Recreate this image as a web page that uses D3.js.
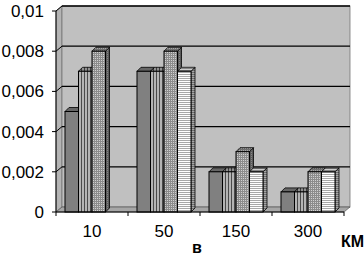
<!DOCTYPE html>
<html>
<head>
<meta charset="utf-8">
<script src="https://cdn.jsdelivr.net/npm/d3@7"></script>
<style>
  body { margin: 0; background: #fff; }
  text { font-family: "Liberation Sans", Arial, sans-serif; fill: #000; }
</style>
</head>
<body>
<script>
const width = 364, height = 255;

// data
const categories = ["10", "50", "150", "300"];
const series1 = [0.005, 0.007, 0.002, 0.001];
const series2 = [0.007, 0.007, 0.002, 0.001];
const series3 = [0.008, 0.008, 0.003, 0.002];
const series4 = [0, 0.007, 0.002, 0.002];
const yTicks = [0, 0.002, 0.004, 0.006, 0.008, 0.01];
const yTickLabels = ["0", "0,002", "0,004", "0,006", "0,008", "0,01"];

const allSeries = [series1, series2, series3, series4];
const seriesKeys = ["s1", "s2", "s3", "s4"];

// front plane + depth of the 3d box
const x0 = 56, x1 = 344;
const dx = 6, dy = -5;     // wall depth
const bdx = 4, bdy = -4;   // bar depth

const svg = d3.select("body").append("svg")
  .attr("width", width)
  .attr("height", height);

const y = d3.scaleLinear().domain([0, 0.01]).range([212, 11]);
const x = d3.scaleBand().domain(categories).range([x0, x1])
  .paddingInner(0.25).paddingOuter(0.125);
const xs = d3.scaleBand().domain(seriesKeys).range([0, x.bandwidth()]);

// fill patterns
const defs = svg.append("defs");
const p2 = defs.append("pattern").attr("id", "p2")
  .attr("patternUnits", "userSpaceOnUse").attr("width", 3).attr("height", 3);
p2.append("rect").attr("width", 3).attr("height", 3).attr("fill", "#b4b4b4");
p2.append("rect").attr("width", 1).attr("height", 3).attr("fill", "#4a4a4a");

const p3 = defs.append("pattern").attr("id", "p3")
  .attr("patternUnits", "userSpaceOnUse").attr("width", 2).attr("height", 2);
p3.append("rect").attr("width", 2).attr("height", 2).attr("fill", "#8c8c8c");
p3.append("rect").attr("x", 1).attr("width", 1).attr("height", 1).attr("fill", "#d0d0d0");

const p4 = defs.append("pattern").attr("id", "p4")
  .attr("patternUnits", "userSpaceOnUse").attr("width", 3).attr("height", 2);
p4.append("rect").attr("width", 3).attr("height", 2).attr("fill", "#fff");
p4.append("rect").attr("width", 3).attr("height", 1).attr("fill", "#a8a8a8");

const fills = ["#808080", "url(#p2)", "url(#p3)", "url(#p4)"];

const y0 = y(0), yTop = y(0.01);

// left wall
svg.append("polygon")
  .attr("points", [[x0, y0], [x0, yTop], [x0 + dx, yTop + dy], [x0 + dx, y0 + dy]].join(" "))
  .attr("fill", "#b4b4b4").attr("stroke", "#555").attr("stroke-width", 0.6);

// back wall
svg.append("rect")
  .attr("x", x0 + dx).attr("y", yTop + dy)
  .attr("width", x1 - x0).attr("height", y0 - yTop)
  .attr("fill", "#c0c0c0").attr("stroke", "#777").attr("stroke-width", 0.8);

// floor
svg.append("polygon")
  .attr("points", [[x0, y0], [x1, y0], [x1 + dx, y0 + dy], [x0 + dx, y0 + dy]].join(" "))
  .attr("fill", "#a6a6a6").attr("stroke", "#444").attr("stroke-width", 0.6);

// gridlines on left + back wall
const grid = svg.append("g");
yTicks.filter(d => d > 0).forEach(v => {
  grid.append("line")
    .attr("x1", x0).attr("y1", y(v)).attr("x2", x0 + dx).attr("y2", y(v) + dy)
    .attr("stroke", "#000").attr("stroke-width", 1);
  grid.append("line")
    .attr("x1", x0 + dx).attr("y1", y(v) + dy).attr("x2", x1 + dx).attr("y2", y(v) + dy)
    .attr("stroke", "#000").attr("stroke-width", v === 0.01 ? 1.6 : 1.2);
});

// bars
const bars = svg.append("g");
categories.forEach((c, ci) => {
  allSeries.forEach((s, si) => {
    const v = s[ci];
    if (!v) return;
    const bx = x(c) + xs(seriesKeys[si]);
    const w = xs.bandwidth();
    const yv = y(v);
    const g = bars.append("g");
    // side
    const side = [[bx + w, yv], [bx + w + bdx, yv + bdy], [bx + w + bdx, y0 + bdy], [bx + w, y0]].join(" ");
    g.append("polygon").attr("points", side).attr("fill", fills[si]);
    g.append("polygon").attr("points", side)
      .attr("fill", "rgba(0,0,0,0.35)").attr("stroke", "#000").attr("stroke-width", 0.8);
    // top
    const top = [[bx, yv], [bx + w, yv], [bx + w + bdx, yv + bdy], [bx + bdx, yv + bdy]].join(" ");
    g.append("polygon").attr("points", top).attr("fill", fills[si]);
    g.append("polygon").attr("points", top)
      .attr("fill", "rgba(0,0,0,0.2)").attr("stroke", "#000").attr("stroke-width", 0.8);
    // front
    g.append("rect")
      .attr("x", bx).attr("y", yv).attr("width", w).attr("height", y0 - yv)
      .attr("fill", fills[si]).attr("stroke", "#000").attr("stroke-width", 1);
  });
});

// y axis
const yAxis = svg.append("g");
yAxis.append("line")
  .attr("x1", x0).attr("y1", y0).attr("x2", x0).attr("y2", yTop)
  .attr("stroke", "#000");
yTicks.forEach((v, i) => {
  yAxis.append("line")
    .attr("x1", x0 - 4).attr("y1", y(v)).attr("x2", x0).attr("y2", y(v))
    .attr("stroke", "#000");
  yAxis.append("text")
    .attr("x", x0 - 12).attr("y", y(v) + 6)
    .attr("text-anchor", "end")
    .attr("font-size", 17)
    .text(yTickLabels[i]);
});

// x axis
const xAxis = svg.append("g");
xAxis.append("line")
  .attr("x1", x0).attr("y1", y0).attr("x2", x1).attr("y2", y0)
  .attr("stroke", "#000");
d3.range(categories.length + 1).forEach(i => {
  const tx = x0 + i * x.step();
  xAxis.append("line")
    .attr("x1", tx).attr("y1", y0).attr("x2", tx).attr("y2", y0 + 4)
    .attr("stroke", "#000");
});
categories.forEach(c => {
  xAxis.append("text")
    .attr("x", x(c) + x.bandwidth() / 2).attr("y", 237)
    .attr("text-anchor", "middle")
    .attr("font-size", 17)
    .text(c);
});

svg.append("text")
  .attr("x", 197).attr("y", 253)
  .attr("text-anchor", "middle")
  .attr("font-size", 16).attr("font-weight", "bold")
  .text("в");

svg.append("text")
  .attr("x", 364).attr("y", 247)
  .attr("text-anchor", "end")
  .attr("font-size", 16).attr("font-weight", "bold")
  .text("КМ");
</script>
</body>
</html>
